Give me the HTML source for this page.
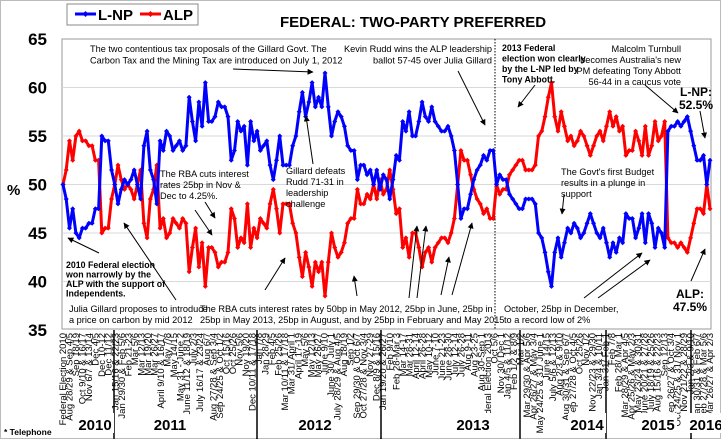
<!DOCTYPE html>
<html><head><meta charset="utf-8"><style>
html,body{margin:0;padding:0;background:#fff;}
body{width:721px;height:439px;overflow:hidden;font-family:"Liberation Sans",Arial,sans-serif;}
</style></head><body>
<svg id="chart" width="721" height="439" viewBox="0 0 721 439" xmlns="http://www.w3.org/2000/svg" font-family="Liberation Sans, Arial, sans-serif">
<defs><marker id="ah" viewBox="0 0 10 10" refX="9" refY="5" markerWidth="6" markerHeight="6" orient="auto"><path d="M0,0L10,5L0,10z" fill="#000"/></marker></defs>
<rect x="0.5" y="0.5" width="720" height="438" fill="#fff" stroke="#777" stroke-dasharray="1,1"/>
<rect x="62" y="39" width="649" height="290" fill="#fff" stroke="#999"/>
<g id="grid"></g>
<g id="yticks"></g>
<text x="7" y="195" font-size="15" font-weight="bold">%</text>
<line x1="495" y1="39" x2="495" y2="329" stroke="#000" stroke-dasharray="1.5,1.5"/>
<g id="series"></g>
<g id="xlabels"></g>
<g id="years"></g>
<text x="413" y="27" font-size="15" font-weight="bold" text-anchor="middle">FEDERAL: TWO-PARTY PREFERRED</text>
<g>
<rect x="67" y="4" width="131" height="21" fill="#fff" stroke="#888"/>
<g><line x1="75" y1="14" x2="96" y2="14" stroke="#0000ff" stroke-width="3"/><path d="M85.5,11L88.5,14L85.5,17L82.5,14z" fill="#0000ff"/><text x="98" y="20" font-size="15" font-weight="bold">L-NP</text></g>
<g><line x1="140" y1="14" x2="161" y2="14" stroke="#ff0000" stroke-width="3"/><path d="M150.5,11L153.5,14L150.5,17L147.5,14z" fill="#ff0000"/><text x="163" y="20" font-size="15" font-weight="bold">ALP</text></g>
</g>
<g font-size="9.2" fill="#000">
<text x="90" y="52"><tspan x="90">The two contentious tax proposals of the Gillard Govt. The</tspan><tspan x="90" dy="11.5">Carbon Tax and the Mining Tax are introduced on July 1, 2012</tspan></text>
<text text-anchor="end" y="52"><tspan x="492">Kevin Rudd wins the ALP leadership</tspan><tspan x="492" dy="11.5">ballot 57-45 over Julia Gillard</tspan></text>
<text y="51" font-weight="bold" font-size="8.8"><tspan x="502">2013 Federal</tspan><tspan x="502" dy="10.5">election won clearly</tspan><tspan x="502" dy="10.5">by the L-NP led by</tspan><tspan x="502" dy="10.5">Tony Abbott.</tspan></text>
<text text-anchor="end" y="52"><tspan x="681">Malcolm Turnbull</tspan><tspan x="681" dy="11">becomes Australia's new</tspan><tspan x="681" dy="11">PM defeating Tony Abbott</tspan><tspan x="681" dy="11">56-44 in a caucus vote</tspan></text>
<text y="96" font-size="12" font-weight="bold" text-anchor="middle"><tspan x="696">L-NP:</tspan><tspan x="696" dy="13">52.5%</tspan></text>
<text y="177"><tspan x="160">The RBA cuts interest</tspan><tspan x="160" dy="11">rates 25bp in Nov &amp;</tspan><tspan x="160" dy="11">Dec to 4.25%.</tspan></text>
<text y="174"><tspan x="286">Gillard defeats</tspan><tspan x="286" dy="11">Rudd 71-31 in</tspan><tspan x="286" dy="11">leadership</tspan><tspan x="286" dy="11">challenge</tspan></text>
<text y="175"><tspan x="561">The Govt's first Budget</tspan><tspan x="561" dy="11">results in a plunge in</tspan><tspan x="561" dy="11">support</tspan></text>
<text y="268" font-weight="bold" font-size="8.8"><tspan x="66">2010 Federal election</tspan><tspan x="66" dy="9.5">won narrowly by the</tspan><tspan x="66" dy="9.5">ALP with the support of</tspan><tspan x="66" dy="9.5">Independents.</tspan></text>
<text y="312"><tspan x="69">Julia Gillard proposes to introduce</tspan><tspan x="69" dy="11">a price on carbon by mid 2012</tspan></text>
<text y="312"><tspan x="200">The RBA cuts interest rates by 50bp in May 2012, 25bp in June, 25bp in</tspan><tspan x="200" dy="11">25bp  in May  2013,  25bp in August, and by 25bp  in  February and May 2015</tspan></text>
<text y="312"><tspan x="504">October, 25bp in December,</tspan><tspan x="504" dy="11">to a record low of 2%</tspan></text>
<text y="298" font-size="12" font-weight="bold" text-anchor="middle"><tspan x="690">ALP:</tspan><tspan x="690" dy="13">47.5%</tspan></text>
</g>
<g stroke="#000" stroke-width="1" marker-end="url(#ah)">
<line x1="233" y1="69" x2="313" y2="72"/>
<line x1="458" y1="71" x2="485" y2="125"/>
<line x1="535" y1="85" x2="518" y2="107"/>
<line x1="645" y1="85" x2="678" y2="113"/>
<line x1="700" y1="111" x2="705" y2="138"/>
<line x1="313" y1="164" x2="306" y2="116"/>
<line x1="564" y1="195" x2="562" y2="214"/>
<line x1="205" y1="202" x2="215" y2="218"/>
<line x1="195" y1="210" x2="212" y2="235"/>
<line x1="99" y1="253" x2="68" y2="238"/>
<line x1="176" y1="300" x2="124" y2="223"/>
<line x1="265" y1="290" x2="285" y2="258"/>
<line x1="357" y1="296" x2="354" y2="276"/>
<line x1="409" y1="298" x2="417" y2="226"/>
<line x1="417" y1="298" x2="426" y2="226"/>
<line x1="441" y1="295" x2="449" y2="257"/>
<line x1="452" y1="295" x2="472" y2="223"/>
<line x1="584" y1="298" x2="642" y2="253"/>
<line x1="598" y1="298" x2="650" y2="260"/>
<line x1="691" y1="281" x2="705" y2="249"/>
</g>
<text x="4" y="435" font-size="8.5" font-weight="bold">* Telephone</text>
</svg>
<script>
const yTicks=[35,40,45,50,55,60,65];
const lnp=[50,48.5,45.5,47.5,45,44.5,45.5,45.5,46,46,47.5,47.5,
55,54.5,54.5,51.5,50,48,49.5,50.5,50,50.5,51.5,50,48.5,54,55.5,51.5,50.5,48,
54.5,53.5,55.5,55,53.5,54,54.5,53.5,54,59,56.5,54.5,58.5,56,60.5,56.5,56.5,57,58.5,58,58,57,52.5,
53.5,56.5,55.5,56,52,56.5,54.5,55.5,53.5,54,54.5,52,50.5,52.5,55,52,52,52,54,55,57.5,59.5,57,58.5,60.5,58,59,58,61.5,
58,55,56.5,57.5,57,56,54,53.5,53.5,50.5,52,52,51,51.5,50,51.5,49.5,51,50.5,48.5,50.5,53,52.5,
56.5,55.5,57.5,55,55,56.5,58.5,57,56.5,58,56.5,56,55.5,55.5,56,55,53.5,50,46.5,47.5,47.5,49,50.5,51.5,52,53,52.5,53.5,53.5,
50,51,50.5,50.5,49,48.5,48,47.5,47.5,48.5,48.5,48.5,48,45,44.5,43,41,39.5,
43,44.5,42.5,44,45.5,45,46,45.5,44.5,45,46,47,46,45,44.5,45.5,44,42.5,44,43,44.5,44,47,46.5,46.5,44.5,45.5,47,44,47,46,43.5,45.5,45,43.5,
55.5,56,56,56.5,56,56.5,57,55.5,54,52.5,52.5,53,50,52.5];
const alp=lnp.map(v=>100-v);
const years=["2010","2011","2012","2013","2014","2015","2016"];
const dateLabels=["Federal Election 2010","Aug 28/29 & Sep 4/5","Sep 18/19","Oct 9/10 & 16/17","Nov 6/7 & 13/14","Dec 4/5","Dec 10-12","Dec 11/12","Jan 15/16 & 22/23","Jan 29/30 & Feb 5/6","Feb 21-23","Mar 5/6","Mar 12/13","Mar 19/20","Mar 26/27","April 9/10 & 16/17","May 7/8","May 14/15","May 31 - June 2","June 11/12 & 18/19","July 2/3","July 16/17 & 23/24","Aug 6/7","Aug 27/28 & Sep 3/4","Sep 24/25 & Oct 1/2","Oct 15/16","Oct 25/26","Nov 5/6","Nov 19/20","Dec 10/11 & 17/18","Jan 7/8","Jan 28/29","Feb 4/5","Feb 25/26","Mar 10/11 & 17/18","Mar 31/ April 1","April 17-19","May 5/6","May 12/13","May 26/27","June 9/10","June 30/ July 1","July 28/29 & Aug 4/5","Aug 18/19","Sep 1/2","Sep 29/30 & Oct 6/7","Oct 27/28 & Nov 3/4","Nov 27-29","Dec 8/9 & 15/16","Jan 19/20 & 26/27","Feb 9/10","Feb 28-Mar 3","Mar 14-17","Mar 28-31","April 12-14","April 26-28","May 10-12","June 7-10","June 21-23","June 28-30","July 12-14","July 26-28","Aug 9-11","Aug 23-25","Aug 30-Sep 1","Federal Election 2013","Oct 5/6","Nov 30/ Dec 1","Jan 4/5 & 11/12","Feb 1/2 & 8/9","Mar 1/2","Mar 29/30 & Apr 5/6","Apr 26/27 & May 3/4","May 24/25 & 31/ June 1","June 14/15","July 5/6 & 12/13","Aug 2/3 & 9/10","Aug 30/31 & Sep 6/7","Sep 27/28 & Oct 4/5","Oct 25/26","Nov 1/2","Nov 22/23 & 29/30","Jan 3/4 & 10/11","Jan 31/ Feb 1","Feb 7/8","Feb 28/ Mar 1","Mar 28/29 & Apr 4/5","Apr 25/26 & May 2/3","May 23/24 & 30/31","June 20/21 & 27/28","July 18/19 & 25/26","Aug 15/16 & 22/23","Sep 12/13","Sep 26/27 & Oct 3/4","Oct 24/25 & 31/ Nov 1","Nov 21/22 & 28/29","Jan 2/3 & 9/10","Jan 30/31 & Feb 6/7","Feb 27/28 & Mar 5/6","Mar 26/27 & Apr 2/3"];
const NS='http://www.w3.org/2000/svg';
const X0=63,X1=710,Y0=330,Y1=39,V0=35,V1=65;
function xScale(i,n){return X0+(X1-X0)*i/(n-1);}
function yScale(v){return Y0-(v-V0)/(V1-V0)*(Y0-Y1);}
function mk(t,p){const e=document.createElementNS(NS,t);for(const k in p)e.setAttribute(k,p[k]);return e;}
const grid=document.getElementById('grid'),yt=document.getElementById('yticks');
yTicks.forEach(v=>{
  if(v>V0&&v<V1){const g=mk('line',{x1:62,x2:711,y1:yScale(v),y2:yScale(v),stroke:'#d9d9d9'});
  
  
  grid.appendChild(g);}
  const t=mk('text',{x:47,y:yScale(v)+6,'font-size':17,'font-weight':'bold','text-anchor':'end'});
  t.textContent=v;
  
  
  yt.appendChild(t);
});
const series=document.getElementById('series');
function drawSeries(vals,color,name){
  const g=mk('g',{});
  
  
  const pts=vals.map((v,i)=>xScale(i,vals.length).toFixed(1)+','+yScale(v).toFixed(1)).join(' ');
  const pl=mk('polyline',{points:pts,fill:'none',stroke:color,'stroke-width':3,'stroke-linejoin':'round'});
  
  
  g.appendChild(pl);
  vals.forEach((v,i)=>{const x=xScale(i,vals.length),y=yScale(v);
    const d=mk('path',{d:`M${x},${y-2.5}L${x+2.5},${y}L${x},${y+2.5}L${x-2.5},${y}z`,fill:color});
    
    
    g.appendChild(d);});
  series.appendChild(g);
}
drawSeries(alp,'#ff0000','alp');
drawSeries(lnp,'#0000ff','lnp');
const xl=document.getElementById('xlabels');
dateLabels.forEach((s,i)=>{
  const x=xScale(i,dateLabels.length)+3;
  const t=mk('text',{x:0,y:0,'font-size':9.5,'text-anchor':'end',transform:`translate(${x.toFixed(1)},333) rotate(-90)`});
  t.textContent=s;
  
  
  xl.appendChild(t);
});
const yg=document.getElementById('years');
const sepX=[114,257,381,520,606,691];
const yearX=[95,170,315,473,587,658,706];
sepX.forEach(x=>{const l=mk('line',{x1:x,x2:x,y1:330,y2:439,stroke:'#000','stroke-width':1.5});
  
  
  yg.appendChild(l);});
years.forEach((y,i)=>{
  const bg=mk('rect',{x:yearX[i]-19,y:413,width:38,height:20,fill:'#fff'});
  
  
  yg.appendChild(bg);
  const t=mk('text',{x:yearX[i],y:430,'font-size':15,'font-weight':'bold','text-anchor':'middle'});
  t.textContent=y;
  
  
  yg.appendChild(t);
});
</script>
</body></html>
